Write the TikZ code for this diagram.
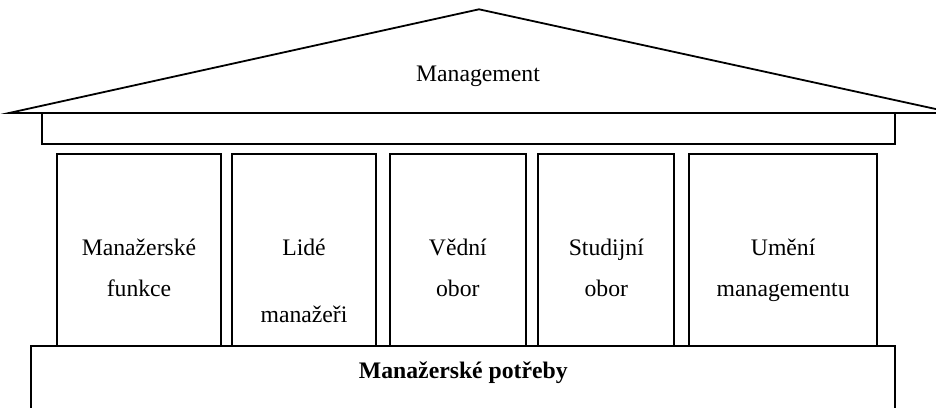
\documentclass[tikz,border=0pt]{standalone}
\usepackage{fontspec}
\setmainfont{Liberation Serif}
\begin{document}
\begin{tikzpicture}[x=1pt,y=-1pt, line width=1.8pt, line join=miter,
  box/.style={draw, rectangle, inner sep=0pt, outer sep=0pt},
  lbl/.style={font=\fontsize{23.7}{28}\selectfont, anchor=base, inner sep=0pt}]
\clip (0,0) rectangle (936,407);
% roof
\coordinate (rl) at (9,113);
\coordinate (apex) at (479,9.3);
\coordinate (rr) at (954,113);
\draw (rl) -- (apex) -- (rr) -- cycle;
\node[lbl] (mgmt) at (478,81.7) {Management};
% beam
\node[box, minimum width=853.3pt, minimum height=31pt] (beam) at (468.65,128.5) {};
% pillars
\node[box, minimum width=164.6pt, minimum height=191.7pt] (p1) at (139,250.15) {};
\node[box, minimum width=143.4pt, minimum height=191.7pt] (p2) at (304,250.15) {};
\node[box, minimum width=135.7pt, minimum height=191.7pt] (p3) at (457.85,250.15) {};
\node[box, minimum width=136pt, minimum height=191.7pt] (p4) at (606.3,250.15) {};
\node[box, minimum width=188.3pt, minimum height=191.7pt] (p5) at (783.15,250.15) {};
% base
\node[box, minimum width=864pt, minimum height=90pt] (base) at (463.3,391) {};
% texts
\node[lbl] (t1a) at (139,255) {Manažerské};
\node[lbl] (t1b) at (139,296.7) {funkce};
\node[lbl] (t2a) at (304,255) {Lidé};
\node[lbl] (t2b) at (304,322.7) {manažeři};
\node[lbl] (t3a) at (457.85,255) {Vědní};
\node[lbl] (t3b) at (457.85,296.7) {obor};
\node[lbl] (t4a) at (606.3,255) {Studijní};
\node[lbl] (t4b) at (606.3,296.7) {obor};
\node[lbl] (t5a) at (783.15,255) {Umění};
\node[lbl] (t5b) at (783.15,296.7) {managementu};
\node[lbl, font=\fontsize{23.7}{28}\selectfont\bfseries] (tb) at (463.3,378) {Manažerské potřeby};
\end{tikzpicture}
\end{document}
